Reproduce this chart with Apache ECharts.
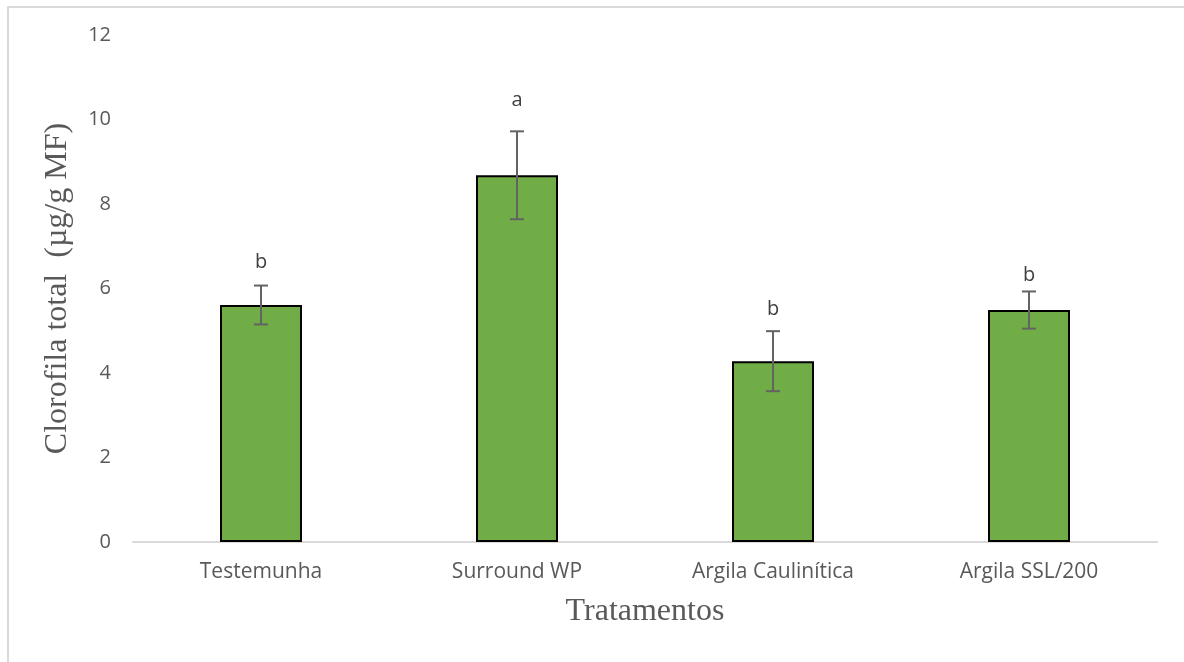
<!DOCTYPE html>
<html>
<head>
<meta charset="utf-8">
<script src="https://cdn.jsdelivr.net/npm/echarts@6/dist/echarts.min.js"></script>
<style>
html,body{margin:0;padding:0;background:#fff;overflow:hidden;width:1184px;height:662px;}
#frame{position:absolute;left:7px;top:6px;width:1400px;height:900px;border:2px solid #d9d9d9;box-sizing:border-box;}
#chart{position:absolute;left:0;top:0;width:1184px;height:662px;}
</style>
</head>
<body>
<div id="frame"></div>
<div id="chart"></div>
<script>
const categories = ['Testemunha', 'Surround WP', 'Argila Caulinítica', 'Argila SSL/200'];
const means = [5.61, 8.68, 4.28, 5.49];
const errors = [0.46, 1.04, 0.71, 0.44];
const letters = ['b', 'a', 'b', 'b'];
const letterHeights = [6.63, 10.46, 5.51, 6.32];
const yTicks = [0, 2, 4, 6, 8, 10, 12];

const chart = echarts.init(document.getElementById('chart'), null, {renderer: 'canvas'});
const errData = categories.map((c, i) => [i, means[i] - errors[i], means[i] + errors[i], letterHeights[i], letters[i]]);

chart.setOption({
  animation: false,
  backgroundColor: 'transparent',
  grid: {left: 133, right: 27, top: 35, bottom: 120, containLabel: false},
  xAxis: {
    type: 'category',
    data: categories,
    name: 'Tratamentos',
    nameLocation: 'middle',
    nameGap: 54,
    nameTextStyle: {fontFamily: 'Liberation Serif', fontSize: 32, color: '#595959'},
    axisLine: {lineStyle: {color: '#d9d9d9', width: 2}},
    axisTick: {show: false},
    axisLabel: {fontFamily: 'Open Sans', fontSize: 21, color: '#595959', margin: 20}
  },
  yAxis: {
    type: 'value',
    min: yTicks[0],
    max: yTicks[yTicks.length - 1],
    interval: 2,
    name: 'Clorofila total  (µg/g MF)',
    nameLocation: 'middle',
    nameGap: 59,
    nameRotate: 90,
    nameTextStyle: {fontFamily: 'Liberation Serif', fontSize: 32, color: '#595959'},
    axisLine: {show: false},
    axisTick: {show: false},
    splitLine: {show: false},
    axisLabel: {fontFamily: 'Open Sans', fontSize: 20, color: '#595959', margin: 22}
  },
  series: [
    {
      type: 'bar',
      data: means,
      barWidth: 82,
      itemStyle: {color: '#70AD47', borderColor: '#000', borderWidth: 2}
    },
    {
      type: 'custom',
      data: errData,
      z: 10,
      renderItem: function (params, api) {
        const x = api.value(0);
        const lo = api.coord([x, api.value(1)]);
        const hi = api.coord([x, api.value(2)]);
        const lt = api.coord([x, api.value(3)]);
        const cap = 7;
        const style = {stroke: '#636363', lineWidth: 2};
        return {
          type: 'group',
          children: [
            {type: 'line', shape: {x1: lo[0], y1: lo[1], x2: hi[0], y2: hi[1]}, style: style},
            {type: 'line', shape: {x1: lo[0] - cap, y1: lo[1], x2: lo[0] + cap, y2: lo[1]}, style: style},
            {type: 'line', shape: {x1: hi[0] - cap, y1: hi[1], x2: hi[0] + cap, y2: hi[1]}, style: style},
            {type: 'text', x: lt[0], y: lt[1],
              style: {text: api.value(4), fill: '#404040', font: '20px "Open Sans"', align: 'center', verticalAlign: 'middle'}}
          ]
        };
      }
    }
  ]
});
</script>
</body>
</html>
